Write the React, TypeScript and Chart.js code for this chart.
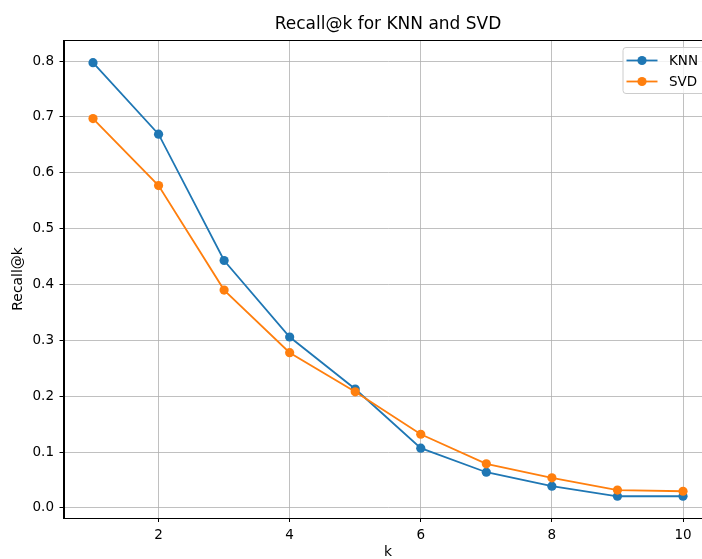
import React, { useEffect, useRef } from "react";
import { Chart, registerables } from "chart.js";

Chart.register(...registerables);

const kValues = [1, 2, 3, 4, 5, 6, 7, 8, 9, 10];
const knnRecall = [0.797, 0.669, 0.443, 0.306, 0.213, 0.107, 0.064, 0.039, 0.021, 0.021];
const svdRecall = [0.697, 0.577, 0.39, 0.278, 0.208, 0.132, 0.079, 0.054, 0.032, 0.03];
const xTicks = [2, 4, 6, 8, 10];
const yTicks = [0, 0.1, 0.2, 0.3, 0.4, 0.5, 0.6, 0.7, 0.8];
const seriesNames = ["KNN", "SVD"];
const seriesColors = ["#1f77b4", "#ff7f0e"];

const FONT = "'DejaVu Sans', sans-serif";

const framePlugin = {
  id: "frame",
  afterDatasetsDraw(chart: any) {
    const { ctx, chartArea } = chart;
    ctx.save();
    ctx.strokeStyle = "#000";
    ctx.lineWidth = 1;
    ctx.strokeRect(
      Math.round(chartArea.left) + 0.5,
      Math.round(chartArea.top) + 0.5,
      Math.round(chartArea.right - chartArea.left),
      Math.round(chartArea.bottom - chartArea.top)
    );
    ctx.restore();
  },
};

const legendPlugin = {
  id: "mplLegend",
  afterDraw(chart: any) {
    const { ctx, chartArea } = chart;
    const left = chartArea.right - 89.5;
    const top = chartArea.top + 7.5;
    const w = 82;
    const h = 46;
    ctx.save();
    ctx.beginPath();
    const r = 3;
    ctx.moveTo(left + r, top);
    ctx.lineTo(left + w - r, top);
    ctx.arcTo(left + w, top, left + w, top + r, r);
    ctx.lineTo(left + w, top + h - r);
    ctx.arcTo(left + w, top + h, left + w - r, top + h, r);
    ctx.lineTo(left + r, top + h);
    ctx.arcTo(left, top + h, left, top + h - r, r);
    ctx.lineTo(left, top + r);
    ctx.arcTo(left, top, left + r, top, r);
    ctx.closePath();
    ctx.fillStyle = "rgba(255,255,255,0.8)";
    ctx.fill();
    ctx.strokeStyle = "#cccccc";
    ctx.lineWidth = 1;
    ctx.stroke();
    seriesNames.forEach((name, i) => {
      const y = top + 13 + i * 21;
      ctx.strokeStyle = seriesColors[i];
      ctx.lineWidth = 1.8;
      ctx.beginPath();
      ctx.moveTo(left + 3.5, y);
      ctx.lineTo(left + 34.5, y);
      ctx.stroke();
      ctx.fillStyle = seriesColors[i];
      ctx.beginPath();
      ctx.arc(left + 19, y, 4.6, 0, Math.PI * 2);
      ctx.fill();
      ctx.fillStyle = "#000";
      ctx.font = `13.5px ${FONT}`;
      ctx.textBaseline = "middle";
      ctx.textAlign = "left";
      ctx.fillText(name, left + 46, y + 0.5);
    });
    ctx.restore();
  },
};

export default function App() {
  const ref = useRef<HTMLCanvasElement | null>(null);

  useEffect(() => {
    if (!ref.current) return;
    const makeSet = (i: number, values: number[], order: number) => ({
      label: seriesNames[i],
      data: kValues.map((k, j) => ({ x: k, y: values[j] })),
      borderColor: seriesColors[i],
      backgroundColor: seriesColors[i],
      borderWidth: 1.8,
      pointRadius: 4.6,
      pointBorderWidth: 0,
      pointBackgroundColor: seriesColors[i],
      tension: 0,
      fill: false,
      order,
    });
    const chart = new Chart(ref.current, {
      type: "line",
      data: {
        datasets: [makeSet(0, knnRecall, 1), makeSet(1, svdRecall, 0)],
      },
      plugins: [framePlugin, legendPlugin],
      options: {
        responsive: false,
        animation: false,
        devicePixelRatio: 1,
        layout: { padding: { left: 0, right: 49.5, top: 0, bottom: 0 } },
        plugins: {
          legend: { display: false },
          tooltip: { enabled: false },
          title: {
            display: true,
            fullSize: false,
            text: "Recall@k for KNN and SVD",
            color: "#000",
            font: { family: FONT, size: 17, weight: "normal" as any, lineHeight: 1.2 },
            padding: { top: 14.5, bottom: 5.1 },
          },
        },
        scales: {
          x: {
            type: "linear",
            min: 0.55,
            max: 10.45,
            afterFit: (s: any) => {
              s.height = 52;
            },
            afterBuildTicks: (s: any) => {
              s.ticks = xTicks.map((v) => ({ value: v }));
            },
            ticks: {
              color: "#000",
              font: { family: FONT, size: 13.5 },
              padding: 5,
              maxRotation: 0,
              autoSkip: false,
              callback: (v: any) => String(v),
            },
            grid: {
              color: "#b0b0b0",
              lineWidth: 0.8,
              drawTicks: true,
              tickLength: 4,
              tickColor: "#000",
              tickWidth: 1,
            },
            border: { display: true, color: "#000", width: 1 },
            title: {
              display: true,
              text: "k",
              color: "#000",
              font: { family: FONT, size: 13.9 },
              padding: { top: 0, bottom: 9.7 },
            },
          },
          y: {
            type: "linear",
            min: -0.0179,
            max: 0.8376,
            afterFit: (s: any) => {
              s.width = 63.5;
            },
            afterBuildTicks: (s: any) => {
              s.ticks = yTicks.map((v) => ({ value: v }));
            },
            ticks: {
              color: "#000",
              font: { family: FONT, size: 13.5 },
              padding: 5.5,
              autoSkip: false,
              callback: (v: any) => Number(v).toFixed(1),
            },
            grid: {
              color: "#b0b0b0",
              lineWidth: 0.8,
              drawTicks: true,
              tickLength: 4,
              tickColor: "#000",
              tickWidth: 1,
            },
            border: { display: true, color: "#000", width: 1 },
            title: {
              display: true,
              text: "Recall@k",
              color: "#000",
              font: { family: FONT, size: 13.9 },
              padding: { top: 9.7, bottom: 0 },
            },
          },
        },
      },
    } as any);
    return () => chart.destroy();
  }, []);

  return (
    <div
      style={{
        position: "absolute",
        left: 0,
        top: 0,
        width: 702,
        height: 559,
        overflow: "hidden",
        background: "#fff",
      }}
    >
      <canvas ref={ref} width={762} height={570} style={{ width: 762, height: 570, display: "block" }} />
    </div>
  );
}
